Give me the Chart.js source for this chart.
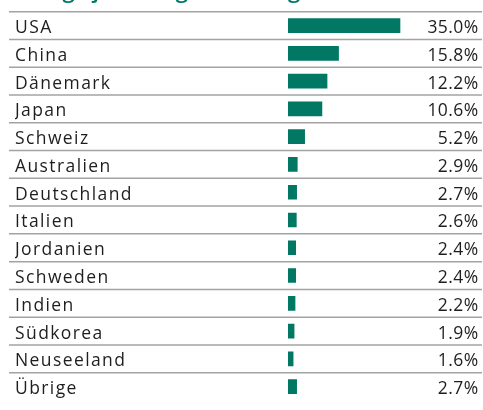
<!DOCTYPE html>
<html>
<head>
<meta charset="utf-8">
<script src="https://cdn.jsdelivr.net/npm/chart.js@4"></script>
<style>
  html, body { margin: 0; padding: 0; background: #fff; overflow: hidden; }
  #wrap { width: 483px; height: 411px; }
</style>
</head>
<body>
<div id="wrap"><canvas id="chart" width="483" height="411"></canvas></div>
<script>
const countries = ["USA", "China", "Dänemark", "Japan", "Schweiz", "Australien", "Deutschland",
  "Italien", "Jordanien", "Schweden", "Indien", "Südkorea", "Neuseeland", "Übrige"];
const weights = [35.0, 15.8, 12.2, 10.6, 5.2, 2.9, 2.7, 2.6, 2.4, 2.4, 2.2, 1.9, 1.6, 2.7];
const heading = "Anlage je Land gemäss Region";

const teal = "#007863";
const textColor = "#1e1e1e";
const lineColor = "#a3a3a3";
const fontFamily = "'Open Sans', sans-serif";

// wider spacing for the row labels (set before axis draws)
const spacingPlugin = {
  id: "spacing",
  beforeDraw(chart) {
    chart.ctx.letterSpacing = "1.4px";
  }
};

// cut-off heading at the top, only descenders visible
const headingPlugin = {
  id: "heading",
  afterDraw(chart) {
    const ctx = chart.ctx;
    ctx.save();
    ctx.letterSpacing = "0px";
    ctx.fillStyle = teal;
    ctx.font = "600 22px " + fontFamily;
    ctx.textBaseline = "alphabetic";
    ctx.textAlign = "left";
    ctx.fillText(heading, 15, -2);
    ctx.restore();
  }
};

// row separators across the full width
const separatorPlugin = {
  id: "separators",
  beforeDatasetsDraw(chart) {
    const ctx = chart.ctx;
    const y = chart.scales.y;
    const step = y.getPixelForValue(1) - y.getPixelForValue(0);
    ctx.save();
    ctx.strokeStyle = lineColor;
    ctx.lineWidth = 1.5;
    countries.forEach((c, i) => {
      const py = y.getPixelForValue(i) - step / 2;
      ctx.beginPath();
      ctx.moveTo(9, py);
      ctx.lineTo(482, py);
      ctx.stroke();
    });
    ctx.restore();
  }
};

// percentage labels on the right
const valuePlugin = {
  id: "values",
  afterDatasetsDraw(chart) {
    const ctx = chart.ctx;
    const meta = chart.getDatasetMeta(0);
    ctx.save();
    ctx.letterSpacing = "0.4px";
    ctx.fillStyle = textColor;
    ctx.font = "17.5px " + fontFamily;
    ctx.textAlign = "right";
    ctx.textBaseline = "middle";
    meta.data.forEach((bar, i) => {
      ctx.fillText(weights[i].toFixed(1) + "%", 478.5, bar.y + 2.5);
    });
    ctx.restore();
  }
};

new Chart(document.getElementById("chart"), {
  type: "bar",
  data: {
    labels: countries,
    datasets: [{
      data: weights,
      backgroundColor: teal,
      barThickness: 14,
      borderWidth: 0
    }]
  },
  options: {
    indexAxis: "y",
    responsive: false,
    animation: false,
    layout: { padding: { left: 15, top: 11.7, right: 67, bottom: 0 } },
    plugins: { legend: { display: false }, tooltip: { enabled: false } },
    scales: {
      x: { display: false, min: 0, max: 40 },
      y: {
        grid: { display: false },
        border: { display: false },
        ticks: {
          crossAlign: "far",
          color: textColor,
          padding: 0,
          labelOffset: 2.5,
          font: { family: fontFamily, size: 17.5 }
        },
        afterFit(scale) { scale.width = 273; }
      }
    }
  },
  plugins: [spacingPlugin, headingPlugin, separatorPlugin, valuePlugin]
});
</script>
</body>
</html>
